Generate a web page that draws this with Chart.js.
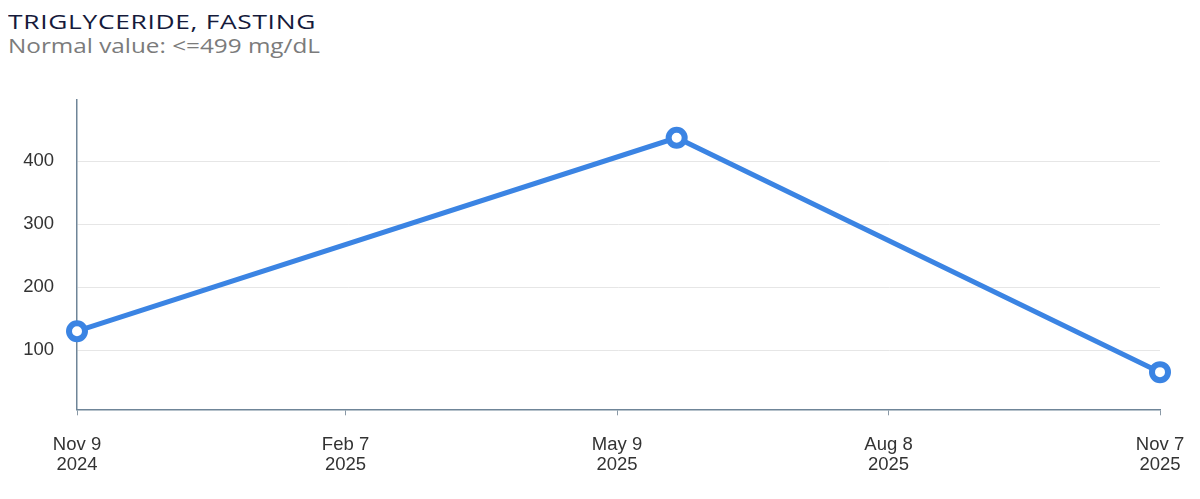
<!DOCTYPE html>
<html>
<head>
<meta charset="utf-8">
<script src="https://cdn.jsdelivr.net/npm/chart.js@4"></script>
<style>
    html, body { margin: 0; padding: 0; background: #fff; }
    body { width: 1200px; height: 499px; position: relative; overflow: hidden; }
    .head { position: absolute; left: 8px; font-family: "Open Sans", sans-serif; white-space: nowrap; transform-origin: 0 0; line-height: normal; }
    #title { top: 8px; font-size: 19.5px; color: #151a3b; letter-spacing: 0.5px; }
    #subtitle { top: 32px; font-size: 19.5px; color: #7b7b7b; }
    #wrap { position: absolute; left: 0; top: 0; width: 1200px; height: 499px; }
</style>
</head>
<body>
<div id="title" class="head">TRIGLYCERIDE, FASTING</div>
<div id="subtitle" class="head">Normal value: &lt;=499 mg/dL</div>
<div id="wrap"><canvas id="chart"></canvas></div>
<script>
// measurement dates and values (mg/dL)
const sampleDates = ['2024-11-09', '2025-05-29', '2025-11-07'];
const sampleValues = [130, 437, 65];

// x axis ticks
const tickDates = ['2024-11-09', '2025-02-07', '2025-05-09', '2025-08-08', '2025-11-07'];
const tickLabels = [['Nov 9', '2024'], ['Feb 7', '2025'], ['May 9', '2025'], ['Aug 8', '2025'], ['Nov 7', '2025']];

// y axis ticks
const yTicks = [100, 200, 300, 400];
const yMin = 6;
const yMax = 497;

// stretch the heading text to the wide look of the original font
function fitWidth(id, target) {
    const el = document.getElementById(id);
    const w = el.getBoundingClientRect().width;
    el.style.transform = 'scaleX(' + (target / w) + ')';
}
fitWidth('title', 308);
fitWidth('subtitle', 312);

const dayMs = 24 * 3600 * 1000;
function dayOffset(d) {
    return Math.round((Date.parse(d) - Date.parse(tickDates[0])) / dayMs);
}

const tickDays = tickDates.map(dayOffset);
const points = sampleDates.map((d, i) => ({ x: dayOffset(d), y: sampleValues[i] }));

const blue = '#3b84e3';
const axisColor = '#6f8598';
const tickFont = { family: '"Liberation Sans", Arial, sans-serif', size: 18.5, lineHeight: 1.1 };

new Chart(document.getElementById('chart').getContext('2d'), {
    type: 'line',
    data: {
        datasets: [{
            data: points,
            borderColor: blue,
            borderWidth: 5,
            pointRadius: 8,
            pointHoverRadius: 8,
            pointBackgroundColor: '#fff',
            pointBorderColor: blue,
            pointBorderWidth: 6,
            tension: 0,
            fill: false,
            clip: false
        }]
    },
    options: {
        responsive: true,
        maintainAspectRatio: false,
        animation: false,
        layout: { padding: { top: 100, right: 40, bottom: 5, left: 0 } },
        plugins: {
            legend: { display: false },
            tooltip: { enabled: false }
        },
        scales: {
            x: {
                type: 'linear',
                min: tickDays[0],
                max: tickDays[tickDays.length - 1],
                afterBuildTicks: scale => { scale.ticks = tickDays.map(v => ({ value: v })); },
                afterFit: scale => { scale.paddingLeft = 0; scale.paddingRight = 0; },
                ticks: {
                    autoSkip: false,
                    maxRotation: 0,
                    padding: 19,
                    color: '#333',
                    font: tickFont,
                    callback: v => tickLabels[tickDays.indexOf(v)]
                },
                grid: { drawOnChartArea: false, drawTicks: true, tickLength: 6, color: '#8a99a6' },
                border: { color: axisColor, width: 1.5 }
            },
            y: {
                min: yMin,
                max: yMax,
                afterBuildTicks: scale => { scale.ticks = yTicks.map(v => ({ value: v })); },
                afterFit: scale => { scale.width = 77; },
                ticks: {
                    padding: 23,
                    color: '#333',
                    font: tickFont
                },
                grid: { drawTicks: false, color: '#e6e6e6' },
                border: { color: axisColor, width: 1.5 }
            }
        }
    }
});
</script>
</body>
</html>
